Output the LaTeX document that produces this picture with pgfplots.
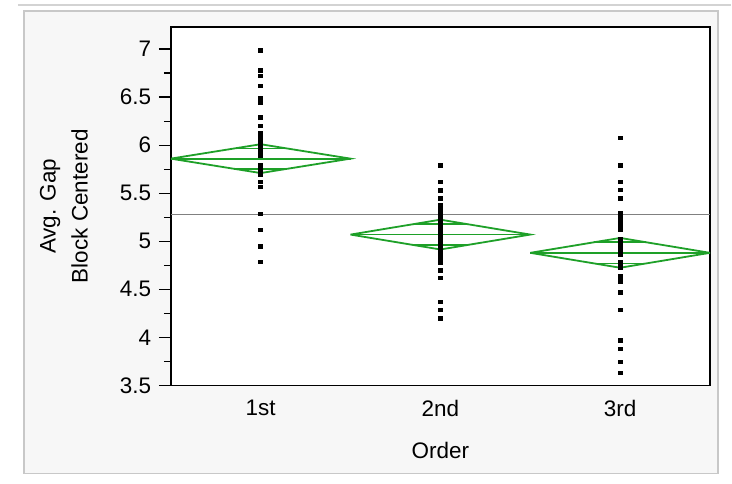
\documentclass[border=0pt]{standalone}
\usepackage{pgfplots}
\pgfplotsset{compat=1.18}
\usepackage{fontspec}
\setmainfont{Liberation Sans}
\definecolor{dgreen}{RGB}{30,160,40}
\definecolor{panelbg}{RGB}{247,247,247}
\definecolor{panelborder}{RGB}{200,200,200}
\begin{document}
\fontsize{22.5bp}{32bp}\selectfont
\begin{tikzpicture}
\path (0bp,0bp) rectangle (732bp,-484bp);
\draw[line width=2bp, panelborder!80] (18bp,-5bp) -- (732bp,-5bp);
\draw[line width=1.5bp, panelborder, fill=panelbg] (24bp,-11bp) rectangle (719bp,-474bp);
\begin{axis}[
  at={(171bp,-386bp)}, anchor=south west,
  scale only axis, width=540bp, height=359bp,
  xmin=-0.5, xmax=2.5, ymin=3.5, ymax=7.23,
  axis background/.style={fill=white},
  axis line style={line width=1.7bp, black},
  xtick={0,1,2}, xticklabels={1st,2nd,3rd}, xtick style={draw=none},
  ytick={3.5,4,4.5,5,5.5,6,6.5,7}, minor y tick num=1,
  tick pos=left, tick align=outside,
  major tick length=12bp, minor tick length=7bp,
  ytick style={line width=1.3bp, black},
  /pgf/number format/assume math mode=true,
  ticklabel style={font=\fontsize{22.5bp}{27bp}\selectfont},
  xticklabel style={yshift=5bp},
  xlabel={Order}, ylabel={Avg. Gap\\Block Centered},
  ylabel style={at={(axis description cs:-0.198,0.5)}, anchor=center, align=center, font=\fontsize{22.5bp}{32bp}\selectfont},
  xlabel style={at={(axis description cs:0.5,-0.181)}, anchor=center, font=\fontsize{22.5bp}{27bp}\selectfont},
]
% grand mean
\addplot[gray, line width=1.1bp] coordinates {(-0.5,5.28) (2.5,5.28)};
% data points
\addplot[only marks, mark=square*, mark size=1.7bp, black, mark options={xscale=1.2}] table {
x y
0 6.99
0 6.78
0 6.72
0 6.62
0 6.49
0 6.44
0 6.29
0 6.20
0 6.13
0 6.11
0 6.09
0 6.07
0 6.05
0 6.03
0 6.01
0 5.99
0 5.97
0 5.95
0 5.93
0 5.91
0 5.89
0 5.79
0 5.77
0 5.75
0 5.73
0 5.71
0 5.69
0 5.62
0 5.57
0 5.29
0 5.12
0 4.95
0 4.79
1 5.79
1 5.62
1 5.53
1 5.45
1 5.38
1 5.36
1 5.34
1 5.32
1 5.30
1 5.28
1 5.26
1 5.24
1 5.22
1 5.20
1 5.18
1 5.16
1 5.14
1 5.12
1 5.10
1 5.08
1 5.06
1 5.04
1 5.02
1 5.00
1 4.98
1 4.96
1 4.94
1 4.92
1 4.90
1 4.88
1 4.86
1 4.84
1 4.82
1 4.80
1 4.78
1 4.70
1 4.62
1 4.37
1 4.29
1 4.20
2 6.08
2 5.79
2 5.62
2 5.54
2 5.45
2 5.30
2 5.28
2 5.26
2 5.24
2 5.22
2 5.20
2 5.18
2 5.16
2 5.12
2 5.02
2 5.00
2 4.98
2 4.96
2 4.94
2 4.92
2 4.90
2 4.88
2 4.86
2 4.79
2 4.77
2 4.75
2 4.73
2 4.64
2 4.62
2 4.60
2 4.58
2 4.47
2 4.29
2 3.97
2 3.88
2 3.75
2 3.63
};
% means diamonds
\addplot[dgreen, line width=1.8bp] coordinates {(-0.5,5.86) (0,6.01) (0.5,5.86) (0,5.71) (-0.5,5.86)};
\addplot[dgreen, line width=1.8bp] coordinates {(-0.5,5.86) (0.5,5.86)};
\addplot[dgreen, line width=1.8bp] coordinates {(-0.146,5.966) (0.146,5.966)};
\addplot[dgreen, line width=1.8bp] coordinates {(-0.146,5.754) (0.146,5.754)};
\addplot[dgreen, line width=1.8bp] coordinates {(0.5,5.07) (1,5.225) (1.5,5.07) (1,4.915) (0.5,5.07)};
\addplot[dgreen, line width=1.8bp] coordinates {(0.5,5.07) (1.5,5.07)};
\addplot[dgreen, line width=1.8bp] coordinates {(0.854,5.18) (1.146,5.18)};
\addplot[dgreen, line width=1.8bp] coordinates {(0.854,4.96) (1.146,4.96)};
\addplot[dgreen, line width=1.8bp] coordinates {(1.5,4.88) (2,5.035) (2.5,4.88) (2,4.725) (1.5,4.88)};
\addplot[dgreen, line width=1.8bp] coordinates {(1.5,4.88) (2.5,4.88)};
\addplot[dgreen, line width=1.8bp] coordinates {(1.854,4.99) (2.146,4.99)};
\addplot[dgreen, line width=1.8bp] coordinates {(1.854,4.77) (2.146,4.77)};
% category separators on the x axis
\draw[line width=1.3bp, black] (axis cs:0.5,3.5) -- ++(0bp,-12bp);
\draw[line width=1.3bp, black] (axis cs:1.5,3.5) -- ++(0bp,-12bp);
\end{axis}
\end{tikzpicture}
\end{document}
